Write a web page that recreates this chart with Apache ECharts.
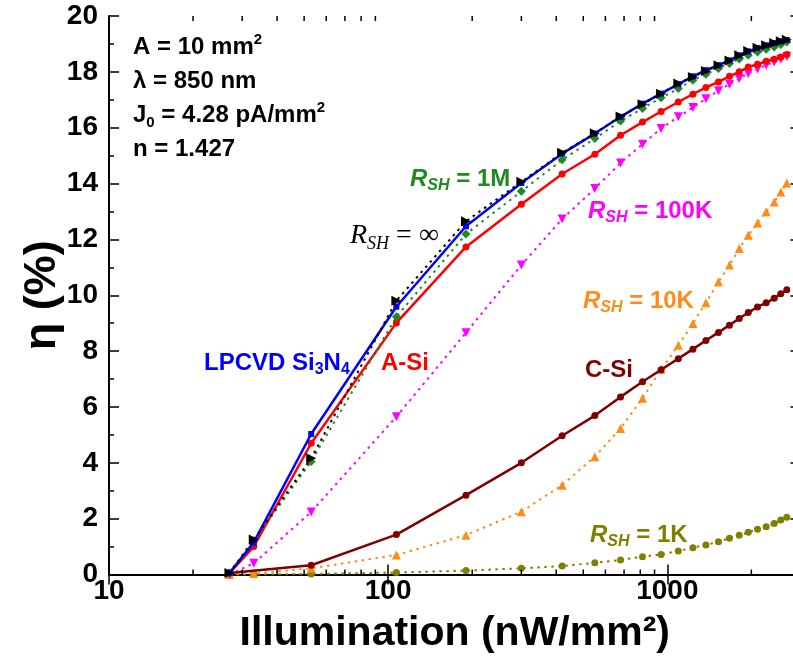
<!DOCTYPE html>
<html>
<head>
<meta charset="utf-8">
<script src="https://cdn.jsdelivr.net/npm/echarts@6/dist/echarts.min.js"></script>
<style>
  html, body { margin: 0; padding: 0; background: #fff; }
  #main { width: 793px; height: 669px; }
</style>
</head>
<body>
<div id="main"></div>
<script>
// Illumination levels (nW/mm^2) shared by every curve
const illumination = [27, 33, 53, 107, 190, 300, 420, 550, 680, 815, 950, 1095, 1235, 1375, 1525, 1670, 1810, 1950, 2105, 2260, 2415, 2550, 2680];

// Efficiency (%) of each cell / shunt-resistance case
const lpcvdSi3N4 = [0.05, 1.15, 5.03, 9.59, 12.47, 14.02, 15.07, 15.79, 16.39, 16.86, 17.22, 17.56, 17.84, 18.06, 18.24, 18.41, 18.59, 18.73, 18.85, 18.95, 19.03, 19.09, 19.14];
const aSi        = [0.05, 1.00, 4.70, 9.01, 11.73, 13.26, 14.34, 15.05, 15.73, 16.20, 16.58, 16.92, 17.20, 17.44, 17.64, 17.84, 18.00, 18.17, 18.27, 18.38, 18.45, 18.53, 18.62];
const rshInf     = [0.05, 1.25, 4.16, 9.80, 12.65, 14.06, 15.10, 15.80, 16.40, 16.84, 17.22, 17.58, 17.82, 18.03, 18.24, 18.41, 18.59, 18.75, 18.86, 18.95, 19.03, 19.10, 19.15];
const rsh1M      = [0.05, 1.20, 4.05, 9.23, 12.19, 13.72, 14.85, 15.61, 16.24, 16.69, 17.07, 17.40, 17.70, 17.91, 18.12, 18.30, 18.46, 18.59, 18.71, 18.81, 18.89, 18.98, 19.07];
const rsh100K    = [0.00, 0.40, 2.24, 5.65, 8.66, 11.08, 12.73, 13.82, 14.74, 15.41, 15.97, 16.39, 16.72, 17.04, 17.32, 17.56, 17.76, 17.94, 18.10, 18.24, 18.35, 18.45, 18.55];
const rsh10K     = [0.00, 0.04, 0.22, 0.70, 1.41, 2.25, 3.20, 4.22, 5.23, 6.31, 7.34, 8.21, 8.99, 9.73, 10.48, 11.08, 11.67, 12.15, 12.59, 12.99, 13.34, 13.70, 14.02];
const cSi        = [0.05, null, 0.33, 1.43, 2.84, 4.00, 4.97, 5.69, 6.36, 6.90, 7.33, 7.73, 8.07, 8.38, 8.67, 8.93, 9.17, 9.38, 9.58, 9.73, 9.89, 10.05, 10.20];
const rsh1K      = [0.00, 0.00, 0.02, 0.07, 0.14, 0.22, 0.30, 0.42, 0.52, 0.64, 0.72, 0.84, 0.96, 1.06, 1.17, 1.30, 1.41, 1.51, 1.62, 1.71, 1.83, 1.95, 2.05];

// Axis ranges and ticks
const xRange = [10, 3000];
const xTickLabels = [10, 100, 1000];
const xMinorTicks = [20, 30, 40, 50, 60, 70, 80, 90, 200, 300, 400, 500, 600, 700, 800, 900, 2000];
const yRange = [0, 20];
const yStep = 2;

const SANS = '"Liberation Sans", Arial, Helvetica, sans-serif';
const SERIF = '"Liberation Serif", "Times New Roman", serif';

function pairs(values) {
  return illumination
    .map((x, i) => [x, values[i]])
    .filter(p => p[1] !== null);
}

const dotted = [2.5, 4.5];

function lineSeries(name, values, color, opts) {
  return Object.assign({
    name: name,
    type: 'line',
    data: pairs(values),
    showSymbol: true,
    symbolKeepAspect: true,
    itemStyle: { color: color },
    lineStyle: { color: color, width: opts.dash ? 2 : 2.5, type: opts.dash ? dotted : 'solid', cap: 'butt' },
    emphasis: { disabled: true },
    animation: false,
    z: opts.z
  }, opts.extra);
}

const chart = echarts.init(document.getElementById('main'), null, { renderer: 'canvas' });

const axisLine = { show: true, lineStyle: { color: '#000', width: 2 } };
const axisTick = { show: true, inside: true, length: 10, lineStyle: { color: '#000', width: 1.5 } };

const LABEL_SIZE = 24;
const SUB_SIZE = 16;

// Rich text for R_SH style labels
function rshLabel(value, color, x, y) {
  return {
    type: 'text', x: x, y: y, z: 100,
    style: {
      text: '{r|R}{s|SH}{t| = ' + value + '}',
      textVerticalAlign: 'middle',
      rich: {
        r: { fontFamily: SANS, fontSize: LABEL_SIZE, fontWeight: 'bold', fontStyle: 'italic', fill: color, lineHeight: 30 },
        s: { fontFamily: SANS, fontSize: SUB_SIZE, fontWeight: 'bold', fontStyle: 'italic', fill: color, lineHeight: 14, verticalAlign: 'bottom' },
        t: { fontFamily: SANS, fontSize: LABEL_SIZE, fontWeight: 'bold', fill: color, lineHeight: 30 }
      }
    }
  };
}

function plainLabel(text, color, x, y) {
  return {
    type: 'text', x: x, y: y, z: 100,
    style: {
      text: text, fill: color, fontFamily: SANS, fontSize: LABEL_SIZE, fontWeight: 'bold',
      textVerticalAlign: 'middle'
    }
  };
}

function infoLine(rich, x, y) {
  return {
    type: 'text', x: x, y: y, z: 100,
    style: {
      text: rich,
      textVerticalAlign: 'middle',
      rich: {
        b: { fontFamily: SANS, fontSize: 24, fontWeight: 'bold', fill: '#000', lineHeight: 30 },
        sup: { fontFamily: SANS, fontSize: 15, fontWeight: 'bold', fill: '#000', lineHeight: 14, verticalAlign: 'top' },
        sub: { fontFamily: SANS, fontSize: 15, fontWeight: 'bold', fill: '#000', lineHeight: 14, verticalAlign: 'bottom' }
      }
    }
  };
}

const annotations = [
  infoLine('{b|A = 10 mm}{sup|2}', 133, 47),
  infoLine('{b|λ = 850 nm}', 133, 81),
  infoLine('{b|J}{sub|0}{b| = 4.28 pA/mm}{sup|2}', 133, 115),
  infoLine('{b|n = 1.427}', 133, 149),

  rshLabel('1M', '#1f8a1f', 410, 179),
  rshLabel('100K', '#ff00ff', 588, 211),
  rshLabel('10K', '#ff8c1a', 583, 301),
  rshLabel('1K', '#808000', 590, 535),
  plainLabel('C-Si', '#800000', 585, 370),
  plainLabel('A-Si', '#ff0000', 381, 363),
  {
    type: 'text', x: 204, y: 363, z: 100,
    style: {
      text: '{b|LPCVD Si}{s|3}{b|N}{s|4}',
      textVerticalAlign: 'middle',
      rich: {
        b: { fontFamily: SANS, fontSize: LABEL_SIZE, fontWeight: 'bold', fill: '#0000ff', lineHeight: 30 },
        s: { fontFamily: SANS, fontSize: SUB_SIZE, fontWeight: 'bold', fill: '#0000ff', lineHeight: 14, verticalAlign: 'bottom' }
      }
    }
  },
  {
    type: 'text', x: 350, y: 236, z: 100,
    style: {
      text: '{r|R}{s|SH}{t| = ∞}',
      textVerticalAlign: 'middle',
      rich: {
        r: { fontFamily: SERIF, fontSize: 28, fontStyle: 'italic', fill: '#000', lineHeight: 34 },
        s: { fontFamily: SERIF, fontSize: 18, fontStyle: 'italic', fill: '#000', lineHeight: 16, verticalAlign: 'bottom' },
        t: { fontFamily: SERIF, fontSize: 28, fill: '#000', lineHeight: 34 }
      }
    }
  }
];

const option = {
  backgroundColor: '#fff',
  animation: false,
  grid: { left: 109, right: -7.5, top: 16, bottom: 94.5, containLabel: false, outerBoundsMode: 'none' },
  xAxis: [
    {
      type: 'log', logBase: 10, min: xRange[0], max: xRange[1], position: 'bottom',
      axisLine: axisLine, axisTick: axisTick, splitLine: { show: false },
      axisLabel: {
        color: '#000', fontFamily: SANS, fontSize: 28, fontWeight: 'bold', margin: 3,
        showMinLabel: true, showMaxLabel: false,
        formatter: v => (xTickLabels.indexOf(Math.round(v)) >= 0 ? String(Math.round(v)) : '')
      },
      name: 'Illumination (nW/mm²)', nameLocation: 'middle', nameGap: 39, nameMoveOverlap: false,
      nameTextStyle: { color: '#000', fontFamily: SANS, fontSize: 41, fontWeight: 'bold' }
    },
    {
      type: 'log', logBase: 10, min: xRange[0], max: xRange[1], position: 'top',
      axisLine: axisLine, axisTick: axisTick, splitLine: { show: false },
      axisLabel: { show: false }
    }
  ],
  yAxis: [
    {
      type: 'value', min: yRange[0], max: yRange[1], interval: yStep, position: 'left',
      axisLine: axisLine, axisTick: axisTick,
      minorTick: { show: true, splitNumber: 2, length: 5, lineStyle: { color: '#000', width: 1.5 } },
      splitLine: { show: false },
      axisLabel: { color: '#000', fontFamily: SANS, fontSize: 28, fontWeight: 'bold', margin: 11 },
      name: 'η (%)', nameLocation: 'middle', nameRotate: 90, nameGap: 44, nameMoveOverlap: false,
      nameTextStyle: { color: '#000', fontFamily: SANS, fontSize: 45, fontWeight: 'bold' }
    },
    {
      type: 'value', min: yRange[0], max: yRange[1], interval: yStep, position: 'right',
      axisLine: axisLine, axisTick: axisTick,
      minorTick: { show: true, splitNumber: 2, length: 5, lineStyle: { color: '#000', width: 1.5 } },
      splitLine: { show: false }, axisLabel: { show: false }
    }
  ],
  series: [
    lineSeries('R_SH = 1K', rsh1K, '#808000', { dash: true, z: 2, extra: { symbol: 'circle', symbolSize: 7 } }),
    lineSeries('R_SH = 10K', rsh10K, '#ff8c1a', { dash: true, z: 3, extra: { symbol: 'triangle', symbolSize: 9 } }),
    lineSeries('R_SH = 100K', rsh100K, '#ff00ff', { dash: true, z: 4, extra: { symbol: 'triangle', symbolRotate: 180, symbolSize: 9 } }),
    lineSeries('C-Si', cSi, '#800000', { dash: false, z: 5, extra: { symbol: 'circle', symbolSize: 7 } }),
    lineSeries('A-Si', aSi, '#ff0000', { dash: false, z: 6, extra: { symbol: 'circle', symbolSize: 7 } }),
    lineSeries('R_SH = 1M', rsh1M, '#1f8a1f', { dash: true, z: 7, extra: { symbol: 'diamond', symbolSize: 9 } }),
    lineSeries('LPCVD Si3N4', lpcvdSi3N4, '#0000ff', { dash: false, z: 8, extra: { symbol: 'rect', symbolSize: 6 } }),
    lineSeries('R_SH = ∞', rshInf, '#000000', { dash: true, z: 9, extra: { symbol: 'triangle', symbolRotate: -90, symbolSize: 10 } })
  ],
  graphic: annotations
};

chart.setOption(option);

// Minor ticks on the logarithmic illumination axis (bottom and top edges)
const yBottom = chart.convertToPixel({ yAxisIndex: 0 }, yRange[0]);
const yTop = chart.convertToPixel({ yAxisIndex: 0 }, yRange[1]);
const minorTickMarks = [];
xMinorTicks.forEach(v => {
  const px = chart.convertToPixel({ xAxisIndex: 0 }, v);
  minorTickMarks.push({ type: 'line', z: 50, shape: { x1: px, y1: yBottom, x2: px, y2: yBottom - 5 }, style: { stroke: '#000', lineWidth: 1.5 } });
  minorTickMarks.push({ type: 'line', z: 50, shape: { x1: px, y1: yTop, x2: px, y2: yTop + 5 }, style: { stroke: '#000', lineWidth: 1.5 } });
});
chart.setOption({ graphic: annotations.concat(minorTickMarks) });
</script>
</body>
</html>
